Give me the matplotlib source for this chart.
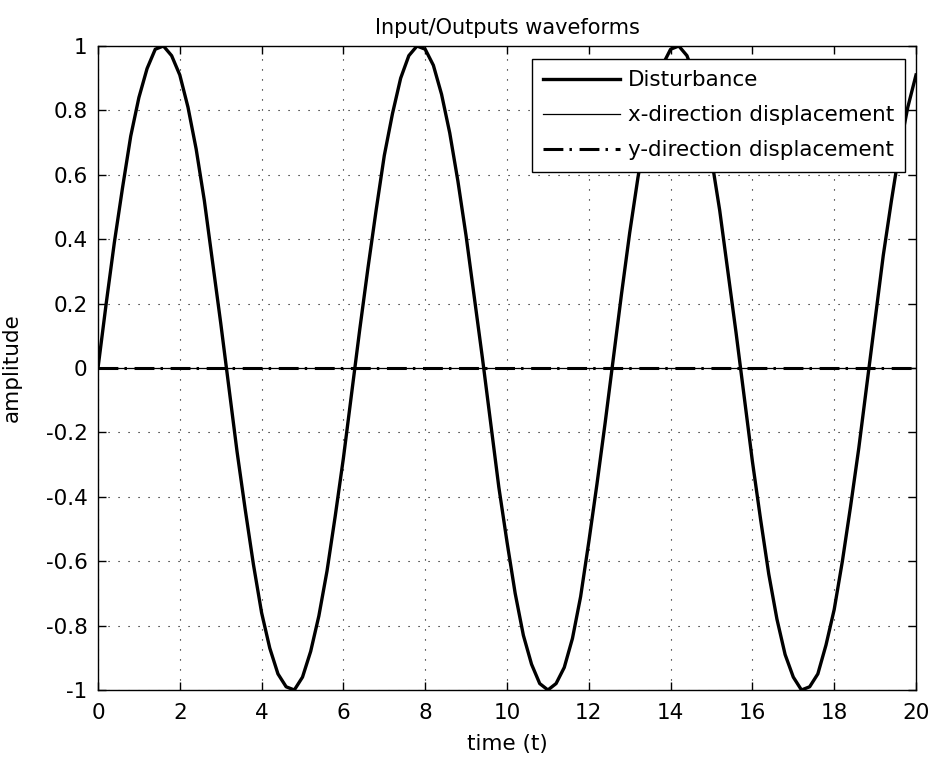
import matplotlib
matplotlib.use("Agg")
import matplotlib.pyplot as plt

# time samples (s)
t = [round(0.2 * i, 1) for i in range(101)]
# disturbance amplitude at the time samples above
disturbance = [
    0.00, 0.20, 0.39, 0.56, 0.72, 0.84, 0.93, 0.99, 1.00, 0.97,
    0.91, 0.81, 0.68, 0.52, 0.33, 0.14, -0.06, -0.26, -0.44, -0.61,
    -0.76, -0.87, -0.95, -0.99, -1.00, -0.96, -0.88, -0.77, -0.63, -0.46,
    -0.28, -0.08, 0.12, 0.31, 0.49, 0.66, 0.79, 0.90, 0.97, 1.00,
    0.99, 0.94, 0.85, 0.73, 0.58, 0.41, 0.22, 0.03, -0.17, -0.37,
    -0.54, -0.70, -0.83, -0.92, -0.98, -1.00, -0.98, -0.93, -0.84, -0.71,
    -0.54, -0.36, -0.17, 0.03, 0.23, 0.42, 0.59, 0.74, 0.86, 0.94,
    0.99, 1.00, 0.97, 0.90, 0.80, 0.65, 0.49, 0.30, 0.11, -0.09,
    -0.29, -0.47, -0.64, -0.78, -0.89, -0.96, -1.00, -0.99, -0.95, -0.86,
    -0.75, -0.60, -0.43, -0.25, -0.05, 0.15, 0.35, 0.52, 0.68, 0.81,
    0.91,
]
disp_t = [0, 5, 10, 15, 20]
x_disp = [0.0, 0.0, 0.0, 0.0, 0.0]
y_disp = [0.0, 0.0, 0.0, 0.0, 0.0]

xticks = [0, 2, 4, 6, 8, 10, 12, 14, 16, 18, 20]
yticks = [-1, -0.8, -0.6, -0.4, -0.2, 0, 0.2, 0.4, 0.6, 0.8, 1]
ytick_labels = ["-1", "-0.8", "-0.6", "-0.4", "-0.2", "0", "0.2", "0.4", "0.6", "0.8", "1"]

plt.rcParams['font.family'] = ['DejaVu Sans']
fs = 15.5

fig = plt.figure(figsize=(9.3, 7.61), dpi=100)
ax = fig.add_axes([98/930, 1-690/761, (916-98)/930, (690-46)/761])

ax.plot(t, disturbance, color='black', lw=2.4, label='Disturbance')
ax.plot(disp_t, x_disp, color='black', lw=0.9, label='x-direction displacement')
ax.plot(disp_t, y_disp, color='black', lw=2.2, ls=(0, (6.5, 2, 0.8, 2.5)),
        label='y-direction displacement')

ax.set_xlim(0, 20)
ax.set_ylim(-1, 1)
ax.set_xticks(xticks)
ax.set_xticklabels([str(v) for v in xticks])
ax.set_yticks(yticks)
ax.set_yticklabels(ytick_labels)
ax.tick_params(direction='in', length=6, width=1, labelsize=fs, top=True, right=True)
ax.tick_params(axis='x', pad=9.5)
ax.tick_params(axis='y', pad=7.5)
ax.grid(True, color='black', ls=(0, (1, 8)), lw=0.8)
for s in ax.spines.values():
    s.set_linewidth(1)

ax.set_title('Input/Outputs waveforms', fontsize=15, pad=9)
ax.set_xlabel('time (t)', fontsize=fs, labelpad=8)
ax.set_ylabel('amplitude', fontsize=fs, labelpad=17)

leg = ax.legend(loc='upper right', bbox_to_anchor=((905-98)/818, 1-(59-46)/644),
                borderaxespad=0, fontsize=fs, frameon=True, fancybox=False,
                edgecolor='black', framealpha=1, handlelength=3.6, handletextpad=0.33,
                borderpad=0.52, labelspacing=0.7)
leg.get_frame().set_linewidth(1)

fig.savefig('out.png', dpi=100, facecolor='white')
